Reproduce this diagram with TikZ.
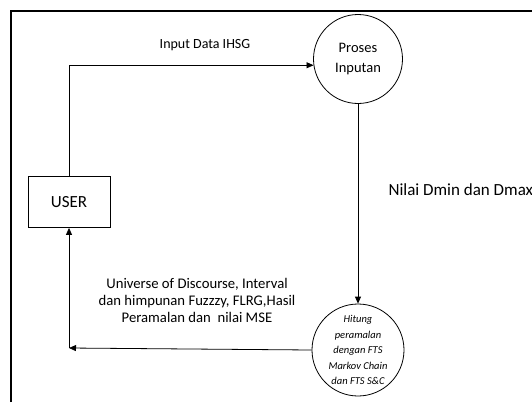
\documentclass[tikz,border=0pt]{standalone}
\usepackage{fontspec}
\setmainfont{Carlito}
\usetikzlibrary{positioning,arrows.meta}
\begin{document}
\begin{tikzpicture}[x=1pt,y=-1pt,
  proses/.style={draw,circle,line width=0.8pt,minimum size=89pt,inner sep=0pt,align=center,font=\fontsize{14.5}{20}\selectfont},
  kotak/.style={draw,line width=0.8pt,minimum width=82pt,minimum height=51pt,font=\fontsize{17}{19}\selectfont},
  fl/.style={-{Triangle[length=7pt,width=6pt]},line width=0.8pt},
  lbl/.style={font=\fontsize{14.7}{17}\selectfont,align=center}
]
\useasboundingbox (0,0) rectangle (532,402);
% bingkai
\draw[line width=1.3pt] (11,402) -- (11,11) -- (532,11);
\node[kotak] (user) at (69,202) {USER};
\node[proses] (input) at (358,59) {Proses\\Inputan};
\node[proses,minimum size=92pt,font=\fontsize{10.5}{15.5}\selectfont\itshape] (hitung) at (358,350) {Hitung\\peramalan\\dengan FTS\\Markov Chain\\dan FTS S\&C};
\coordinate (sudut) at (69,348);
\draw[fl] (user.north) |- (input.188);
\node[lbl,font=\fontsize{14}{16}\selectfont] (l1) at (205,45) {Input Data IHSG};
\draw[fl] (input.south) -- (hitung.north);
\node[font=\fontsize{17}{19}\selectfont,anchor=west] (l2) at (385,190) {Nilai Dmin dan Dmax};
\draw[fl] (hitung.west) -- (sudut);
\draw[fl] (sudut) -- (user.south);
\node[lbl] (l3) at (197,300) {Universe of Discourse, Interval\\dan himpunan Fuzzzy, FLRG,Hasil\\Peramalan dan\ \ nilai MSE};
\end{tikzpicture}
\end{document}
